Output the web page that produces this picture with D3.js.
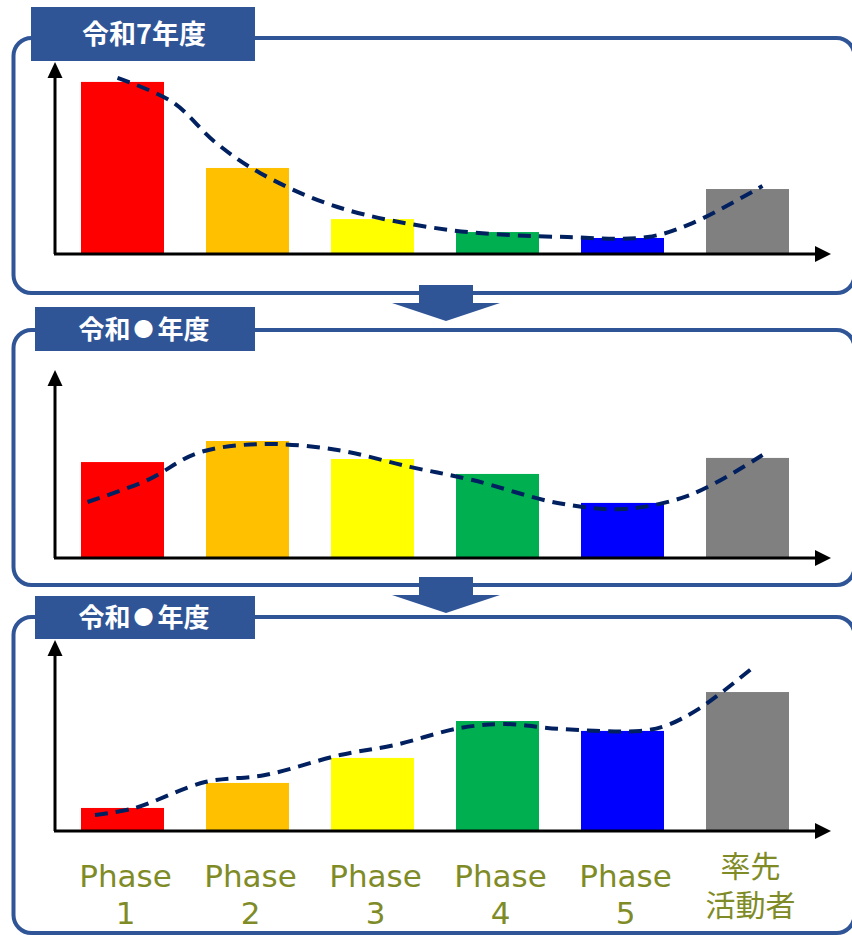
<!DOCTYPE html>
<html>
<head>
<meta charset="utf-8">
<script src="https://cdn.jsdelivr.net/npm/d3@7/dist/d3.min.js"></script>
<style>
  html, body { margin: 0; padding: 0; background: #ffffff; }
  svg { display: block; }
</style>
</head>
<body>
<svg id="chart" width="852" height="935"></svg>
<script>
// Categories and their two-line axis labels
const categories = ["Phase 1", "Phase 2", "Phase 3", "Phase 4", "Phase 5", "率先活動者"];
const categoryLines = [["Phase", "1"], ["Phase", "2"], ["Phase", "3"], ["Phase", "4"], ["Phase", "5"], ["率先", "活動者"]];
const barColors = ["#FF0000", "#FFC000", "#FFFF00", "#00B050", "#0000FF", "#808080"];

// Panel titles (one per year), split around the placeholder mark
const panelTitles = [["令和7年度"], ["令和", "●", "年度"], ["令和", "●", "年度"]];

// Bar heights per panel (share of each group, 0–100)
const barValues1 = [95.6, 47.8, 19.4, 12.2, 8.9, 36.1];
const barValues2 = [53.3, 65.0, 55.0, 46.7, 30.6, 55.6];
const barValues3 = [12.8, 26.7, 40.6, 61.1, 55.6, 77.2];

// Trend curves: position along the category axis (0 = first category) and level
const trendPos1 = [-0.04, 0.40, 0.74, 1.10, 1.72, 2.62, 3.56, 4.20, 4.56, 5.12];
const trendVal1 = [97.8, 84.4, 62.2, 45.0, 26.1, 13.3, 9.4, 9.4, 17.2, 37.8];
const trendPos2 = [-0.28, 0.20, 0.60, 1.10, 1.72, 2.30, 2.80, 3.48, 4.00, 4.54, 5.12];
const trendVal2 = [31.1, 43.3, 58.3, 63.3, 60.0, 50.6, 43.3, 30.6, 27.2, 35.0, 57.2];
const trendPos3 = [-0.22, 0.10, 0.66, 1.14, 1.74, 2.18, 2.70, 3.06, 3.50, 4.14, 4.34, 4.62, 5.04];
const trendVal3 = [8.9, 12.8, 27.2, 31.1, 42.2, 47.8, 57.2, 59.4, 56.7, 55.6, 58.3, 68.3, 90.6];

const barSeries = [barValues1, barValues2, barValues3];
const trendSeries = [
  trendPos1.map((p, i) => [p, trendVal1[i]]),
  trendPos2.map((p, i) => [p, trendVal2[i]]),
  trendPos3.map((p, i) => [p, trendVal3[i]])
];

// Layout of the three stacked panels
const panels = [
  { frameTop: 38,  frameBottom: 293, base: 254, axisTop: 62,  tab: { x: 31, y: 7,   w: 224, h: 54 } },
  { frameTop: 330, frameBottom: 585, base: 558, axisTop: 370, tab: { x: 35, y: 307, w: 220, h: 44 } },
  { frameTop: 617, frameBottom: 933, base: 831, axisTop: 640, tab: { x: 35, y: 596, w: 220, h: 43 } }
];

const frameBlue = "#2F5597";
const svg = d3.select("#chart");

const x = d3.scaleBand()
  .domain(categories)
  .range([60, 810])
  .paddingInner(0.336)
  .paddingOuter(0.168);

const xPos = d3.scaleLinear()
  .domain([0, categories.length - 1])
  .range([x(categories[0]) + x.bandwidth() / 2, x(categories[categories.length - 1]) + x.bandwidth() / 2]);

// Down arrows between panels
function downArrow(top) {
  const p = d3.path();
  p.moveTo(419, top);
  p.lineTo(473, top);
  p.lineTo(473, top + 18);
  p.lineTo(500, top + 18);
  p.lineTo(446, top + 36);
  p.lineTo(392, top + 18);
  p.lineTo(419, top + 18);
  p.closePath();
  return p.toString();
}

panels.forEach((pn, k) => {
  const g = svg.append("g");
  const y = d3.scaleLinear().domain([0, 100]).range([pn.base, pn.base - 180]);

  // Rounded frame (runs slightly past the right edge of the page)
  g.append("rect")
    .attr("x", 13.5).attr("y", pn.frameTop)
    .attr("width", 841).attr("height", pn.frameBottom - pn.frameTop)
    .attr("rx", 18).attr("ry", 18)
    .attr("fill", "none")
    .attr("stroke", frameBlue)
    .attr("stroke-width", 4);

  // Title tab
  g.append("rect")
    .attr("x", pn.tab.x).attr("y", pn.tab.y)
    .attr("width", pn.tab.w).attr("height", pn.tab.h)
    .attr("fill", frameBlue);
  const title = g.append("text")
    .attr("x", 144)
    .attr("y", pn.tab.y + pn.tab.h / 2)
    .attr("dy", "0.37em")
    .attr("text-anchor", "middle")
    .attr("fill", "#ffffff")
    .attr("font-family", "'Noto Sans CJK JP', 'Noto Sans', sans-serif")
    .attr("font-weight", "bold")
    .attr("font-size", k === 0 ? 27 : 26);
  panelTitles[k].forEach((part, j) => {
    const ts = title.append("tspan").text(part);
    if (part === "●") {
      ts.attr("font-size", 20)
        .attr("dx", 3)
        .attr("dy", -2);
    } else if (j > 0) {
      ts.attr("dx", 4).attr("dy", 2);
    }
  });

  // Bars
  g.selectAll("rect.bar")
    .data(barSeries[k])
    .join("rect")
    .attr("class", "bar")
    .attr("x", (d, i) => x(categories[i]))
    .attr("y", d => y(d))
    .attr("width", x.bandwidth())
    .attr("height", d => y(0) - y(d))
    .attr("fill", (d, i) => barColors[i]);

  // Axes with arrow heads
  const axisG = g.append("g");
  axisG.append("line")
    .attr("x1", 55).attr("y1", y(0))
    .attr("x2", 55).attr("y2", pn.axisTop + 12)
    .attr("stroke", "#000").attr("stroke-width", 3);
  axisG.append("line")
    .attr("x1", 54).attr("y1", y(0))
    .attr("x2", 818).attr("y2", y(0))
    .attr("stroke", "#000").attr("stroke-width", 3);
  axisG.append("path")
    .attr("d", `M55,${pn.axisTop} L62.5,${pn.axisTop + 16} L47.5,${pn.axisTop + 16} Z`)
    .attr("fill", "#000");
  axisG.append("path")
    .attr("d", `M831,${y(0)} L815,${y(0) - 8} L815,${y(0) + 8} Z`)
    .attr("fill", "#000");

  // Dashed trend curve
  const line = d3.line()
    .x(d => xPos(d[0]))
    .y(d => y(d[1]))
    .curve(d3.curveCatmullRom.alpha(0.5));
  g.append("path")
    .datum(trendSeries[k])
    .attr("d", line)
    .attr("fill", "none")
    .attr("stroke", "#002060")
    .attr("stroke-width", 4)
    .attr("stroke-dasharray", "13,8");
});

// Arrows linking the panels
svg.append("path").attr("d", downArrow(285)).attr("fill", frameBlue);
svg.append("path").attr("d", downArrow(577)).attr("fill", frameBlue);

// Category labels beneath the last panel
const labels = svg.append("g")
  .attr("fill", "#7F8B26")
  .attr("font-family", "'DejaVu Sans', 'Noto Sans CJK JP', sans-serif")
  .attr("text-anchor", "middle");

categoryLines.forEach((lines, i) => {
  const cx = x(categories[i]) + x.bandwidth() / 2 + 3;
  const isCjk = i === categories.length - 1;
  const t = labels.append("text")
    .attr("font-size", isCjk ? 30 : 31);
  t.append("tspan")
    .attr("x", cx)
    .attr("y", isCjk ? 877 : 887)
    .text(lines[0]);
  t.append("tspan")
    .attr("x", cx)
    .attr("y", isCjk ? 916 : 924)
    .text(lines[1]);
});
</script>
</body>
</html>
